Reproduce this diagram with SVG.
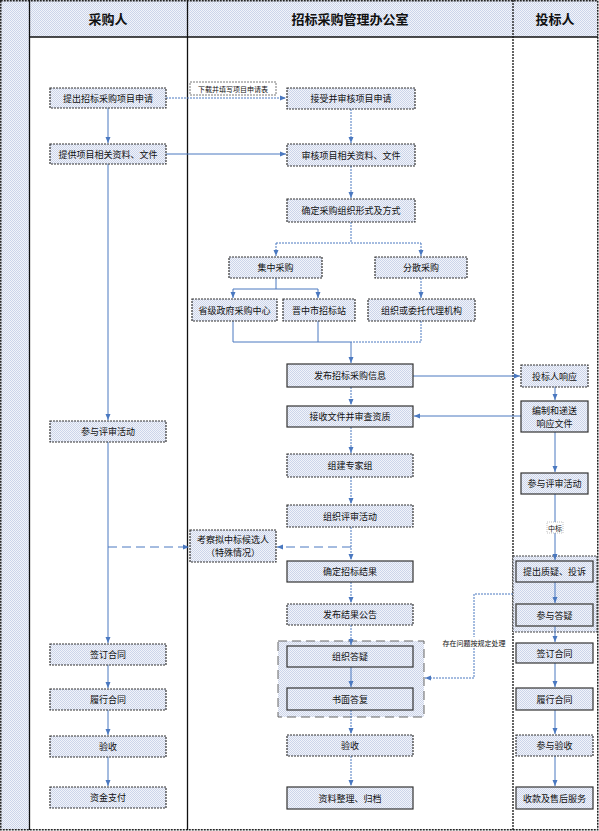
<svg xmlns="http://www.w3.org/2000/svg" width="599" height="831" viewBox="0 0 599 831">
<defs>
<pattern id="dots" width="2" height="2" patternUnits="userSpaceOnUse">
<rect width="2" height="2" fill="#f2f4fa"/>
<rect width="1" height="1" fill="#ccd5ea"/>
<rect x="1" y="1" width="1" height="1" fill="#ccd5ea"/>
</pattern>
<marker id="a" viewBox="0 0 6 6" refX="6" refY="3" markerWidth="6" markerHeight="6" markerUnits="userSpaceOnUse" orient="auto">
<path d="M0,0.5 L6,3 L0,5.5 Z" fill="#4a78c0"/>
</marker>
</defs>
<style>
.bg{fill:url(#dots)}
.n{fill:url(#dots);stroke:#333;stroke-width:1.2;stroke-dasharray:2 1}
.ns{fill:url(#dots);stroke:#333;stroke-width:1.2}
.t{font-family:"Noto Sans CJK SC","Noto Sans",sans-serif;font-size:9px;fill:#111;text-anchor:middle;dominant-baseline:central}
.h{font-family:"Noto Sans CJK SC","Noto Sans",sans-serif;font-size:13px;font-weight:bold;fill:#111;text-anchor:middle;dominant-baseline:central}
.s{font-family:"Noto Sans CJK SC","Noto Sans",sans-serif;font-size:7px;fill:#111;text-anchor:middle;dominant-baseline:central}
.c{stroke:#4a78c0;fill:none;stroke-width:1}
.d{stroke-dasharray:2 1}
.l{stroke-dasharray:9 5}
.ln{stroke:#111;stroke-width:1.3;fill:none}
</style>
<!-- frame -->
<g id="frame">
<rect x="0" y="0" width="599" height="831" fill="#fff"/>
<rect x="0.5" y="0.5" width="29" height="829" class="bg"/>
<rect x="29" y="0.5" width="568" height="36.5" class="bg"/>
<rect x="0.75" y="0.75" width="597" height="829" fill="none" stroke="#222" stroke-width="1.5" stroke-dasharray="2 1"/>
<line x1="29.5" y1="0" x2="29.5" y2="830" class="ln"/>
<line x1="187.5" y1="0" x2="187.5" y2="830" class="ln"/>
<line x1="513" y1="0" x2="513" y2="830" class="ln" stroke-dasharray="2 1"/>
<line x1="29" y1="37" x2="598" y2="37" class="ln"/>
<text x="108" y="18" class="h">采购人</text>
<text x="350" y="18" class="h">招标采购管理办公室</text>
<text x="555" y="18" class="h">投标人</text>
</g>
<!-- groups -->
<g id="grp-answer">
<rect x="278" y="641" width="146" height="76" fill="url(#dots)" stroke="#666" stroke-width="1" stroke-dasharray="9 5"/>
</g>
<g id="grp-bidder">
<rect x="513" y="556" width="84" height="76" fill="url(#dots)" stroke="#444" stroke-width="1" stroke-dasharray="2 1"/>
</g>
<!-- connectors -->
<g id="connectors">
<path class="c" d="M108,108 V143" marker-end="url(#a)"/>
<path class="c" d="M108,164 V420" marker-end="url(#a)"/>
<path class="c" d="M108,442 V643" marker-end="url(#a)"/>
<path class="c" d="M108,665 V688" marker-end="url(#a)"/>
<path class="c" d="M108,710 V735" marker-end="url(#a)"/>
<path class="c" d="M108,757 V786" marker-end="url(#a)"/>
<path class="c d" d="M166,98 H286" marker-end="url(#a)"/>
<path class="c" d="M166,154 H286" marker-end="url(#a)"/>
<path class="c d" d="M351,109 V143" marker-end="url(#a)"/>
<path class="c d" d="M351,166 V198" marker-end="url(#a)"/>
<path class="c d" d="M351,222 V243 M276,243 H421"/>
<path class="c d" d="M276,243 V256" marker-end="url(#a)"/>
<path class="c d" d="M421,243 V256" marker-end="url(#a)"/>
<path class="c" d="M276,278 V289 M233,289 H318"/>
<path class="c" d="M233,289 V298" marker-end="url(#a)"/>
<path class="c" d="M318,289 V298" marker-end="url(#a)"/>
<path class="c d" d="M421,278 V298" marker-end="url(#a)"/>
<path class="c" d="M233,321 V342 H351 M318,321 V342"/>
<path class="c d" d="M421,321 V342 H351"/>
<path class="c" d="M351,342 V363" marker-end="url(#a)"/>
<path class="c" d="M413,376 H520" marker-end="url(#a)"/>
<path class="c" d="M521,416 H414" marker-end="url(#a)"/>
<path class="c d" d="M351,387 V405" marker-end="url(#a)"/>
<path class="c d" d="M351,427 V453" marker-end="url(#a)"/>
<path class="c d" d="M351,477 V504" marker-end="url(#a)"/>
<path class="c d" d="M351,527 V560" marker-end="url(#a)"/>
<path class="c d" d="M351,582 V603" marker-end="url(#a)"/>
<path class="c d" d="M351,625 V645" marker-end="url(#a)"/>
<path class="c" d="M351,667 V687" marker-end="url(#a)"/>
<path class="c d" d="M351,710 V734" marker-end="url(#a)"/>
<path class="c d" d="M351,756 V786" marker-end="url(#a)"/>
<path class="c l" d="M108,547 H189" marker-end="url(#a)"/>
<path class="c l" d="M351,547 H277" marker-end="url(#a)"/>
<path class="c" d="M555,387 V400" marker-end="url(#a)"/>
<path class="c" d="M555,432 V472" marker-end="url(#a)"/>
<path class="c" d="M555,494 V560" marker-end="url(#a)"/>
<path class="c" d="M555,582 V603" marker-end="url(#a)"/>
<path class="c" d="M555,626 V642" marker-end="url(#a)"/>
<path class="c" d="M555,663 V687" marker-end="url(#a)"/>
<path class="c" d="M555,710 V734" marker-end="url(#a)"/>
<path class="c" d="M555,756 V786" marker-end="url(#a)"/>
<path class="c d" stroke-width="1.3" d="M513,594 H474 V678 H425" marker-end="url(#a)"/>
<rect x="547" y="522" width="16" height="11" fill="#fff" stroke="#999" stroke-width="0.6" stroke-dasharray="1 1"/>
<text x="555" y="527.5" class="s">中标</text>
<rect x="437" y="637" width="74" height="11" fill="#fff"/>
<text x="474" y="642.5" class="s">存在问题按规定处理</text>
</g>
<!-- lane 1 -->
<g id="n-tichu"><rect x="50" y="88" width="116" height="20" class="n"/><text x="108" y="98" class="t">提出招标采购项目申请</text></g>
<g id="n-tigong"><rect x="50" y="144" width="116" height="20" class="n"/><text x="108" y="154" class="t">提供项目相关资料、文件</text></g>
<g id="n-canyu1"><rect x="50" y="421" width="116" height="21" class="n"/><text x="108" y="431.5" class="t">参与评审活动</text></g>
<g id="n-qianding1"><rect x="50" y="644" width="116" height="21" class="n"/><text x="108" y="654.5" class="t">签订合同</text></g>
<g id="n-lvxing1"><rect x="50" y="689" width="116" height="21" class="n"/><text x="108" y="699.5" class="t">履行合同</text></g>
<g id="n-yanshou1"><rect x="50" y="736" width="116" height="21" class="n"/><text x="108" y="746.5" class="t">验收</text></g>
<g id="n-zijin"><rect x="50" y="787" width="116" height="21" class="n"/><text x="108" y="797.5" class="t">资金支付</text></g>
<!-- lane 2 -->
<g id="n-xiazai"><rect x="190" y="82" width="86" height="13" fill="#fff" stroke="#555" stroke-width="0.8" stroke-dasharray="2 1"/><text x="233" y="88.5" class="s">下载并填写项目申请表</text></g>
<g id="n-jieshou"><rect x="287" y="88" width="128" height="21" class="n"/><text x="351" y="98.5" class="t">接受并审核项目申请</text></g>
<g id="n-shenhe"><rect x="287" y="144" width="128" height="22" class="n"/><text x="351" y="155" class="t">审核项目相关资料、文件</text></g>
<g id="n-queding"><rect x="287" y="199" width="128" height="23" class="n"/><text x="351" y="210.5" class="t">确定采购组织形式及方式</text></g>
<g id="n-jizhong"><rect x="229" y="257" width="93" height="21" class="n"/><text x="275.5" y="267.5" class="t">集中采购</text></g>
<g id="n-fensan"><rect x="375" y="257" width="92" height="21" class="n"/><text x="421" y="267.5" class="t">分散采购</text></g>
<g id="n-shengji"><rect x="192" y="299" width="85" height="22" class="n"/><text x="234.5" y="310" class="t">省级政府采购中心</text></g>
<g id="n-jinzhong"><rect x="283" y="299" width="72" height="22" class="n"/><text x="319" y="310" class="t">晋中市招标站</text></g>
<g id="n-zuzhi"><rect x="368" y="299" width="107" height="22" class="n"/><text x="421.5" y="310" class="t">组织或委托代理机构</text></g>
<g id="n-fabu"><rect x="287" y="364" width="126" height="23" class="ns"/><text x="350" y="375.5" class="t">发布招标采购信息</text></g>
<g id="n-jieshouwj"><rect x="287" y="406" width="126" height="21" class="ns"/><text x="350" y="416.5" class="t">接收文件并审查资质</text></g>
<g id="n-zujian"><rect x="287" y="454" width="126" height="23" class="n"/><text x="350" y="465.5" class="t">组建专家组</text></g>
<g id="n-zuzhips"><rect x="287" y="505" width="126" height="22" class="n"/><text x="350" y="516" class="t">组织评审活动</text></g>
<g id="n-kaocha"><rect x="190" y="530" width="86" height="32" class="n" stroke-dasharray="4 2"/><text x="233" y="539" class="t">考察拟中标候选人</text><text x="233" y="552" class="t">（特殊情况）</text></g>
<g id="n-quedingjg"><rect x="287" y="561" width="126" height="21" class="ns"/><text x="350" y="571.5" class="t">确定招标结果</text></g>
<g id="n-fabujg"><rect x="287" y="604" width="126" height="21" class="n"/><text x="350" y="614.5" class="t">发布结果公告</text></g>
<g id="n-dayi"><rect x="287" y="646" width="126" height="21" class="ns"/><text x="350" y="656.5" class="t">组织答疑</text></g>
<g id="n-shumian"><rect x="287" y="688" width="126" height="22" class="ns"/><text x="350" y="699" class="t">书面答复</text></g>
<g id="n-yanshou2"><rect x="287" y="735" width="126" height="21" class="n"/><text x="350" y="745.5" class="t">验收</text></g>
<g id="n-ziliao"><rect x="287" y="787" width="126" height="22" class="ns"/><text x="350" y="798" class="t">资料整理、归档</text></g>
<!-- lane 3 -->
<g id="n-xiangying"><rect x="521" y="365" width="67" height="22" class="n"/><text x="554.5" y="376" class="t">投标人响应</text></g>
<g id="n-bianzhi"><rect x="521" y="401" width="67" height="31" class="ns"/><text x="554.5" y="410" class="t">编制和递送</text><text x="554.5" y="423" class="t">响应文件</text></g>
<g id="n-canyu3"><rect x="521" y="473" width="67" height="21" class="ns"/><text x="554.5" y="483.5" class="t">参与评审活动</text></g>
<g id="n-zhiyi"><rect x="516" y="561" width="77" height="21" class="ns"/><text x="554.5" y="571.5" class="t">提出质疑、投诉</text></g>
<g id="n-canyudy"><rect x="516" y="604" width="77" height="22" fill="url(#dots)" stroke="#555" stroke-width="1.5"/><text x="554.5" y="615" class="t">参与答疑</text></g>
<g id="n-qianding3"><rect x="516" y="643" width="77" height="20" class="ns"/><text x="554.5" y="653" class="t">签订合同</text></g>
<g id="n-lvxing3"><rect x="516" y="688" width="77" height="22" class="ns"/><text x="554.5" y="699" class="t">履行合同</text></g>
<g id="n-yanshou3"><rect x="516" y="735" width="77" height="21" class="n"/><text x="554.5" y="745.5" class="t">参与验收</text></g>
<g id="n-shoukuan"><rect x="516" y="787" width="77" height="22" class="ns"/><text x="554.5" y="798" class="t">收款及售后服务</text></g>
</svg>
